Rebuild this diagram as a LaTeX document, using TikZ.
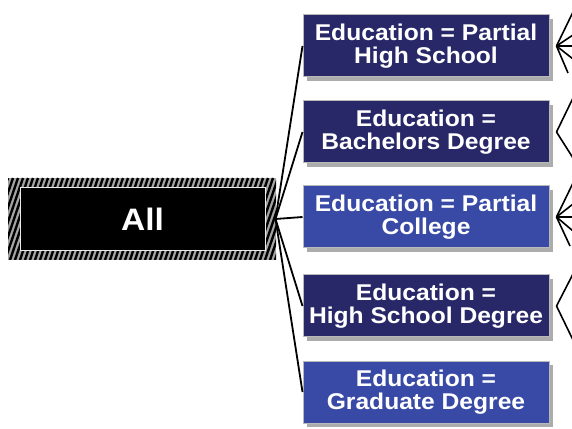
\documentclass[tikz,border=0pt]{standalone}
\usepackage{fontspec}
\newfontfamily\boxfont[FakeStretch=1.08]{Liberation Sans}
\usetikzlibrary{shadows}
\definecolor{navy}{RGB}{40,40,105}
\definecolor{brightblue}{RGB}{56,74,165}
\definecolor{hatchgray}{RGB}{165,165,165}
\begin{document}
\begin{tikzpicture}[x=1pt,y=1pt,
  edubox/.style={rectangle, minimum width=246pt, minimum height=62pt, inner sep=0pt,
    draw=gray!55, line width=1pt, text=white, align=center,
    font=\boxfont\bfseries\fontsize{22.8}{23}\selectfont,
    drop shadow={shadow xshift=4pt, shadow yshift=-4pt, fill=gray!65, opacity=1}},
  darkbox/.style={edubox, fill=navy},
  lightbox/.style={edubox, fill=brightblue},
  link/.style={draw=black, line width=1.8pt},
  fan/.style={draw=black, line width=1.6pt}]
\useasboundingbox (0,0) rectangle (572,428);
% All box with hatched border
\begin{scope}
  \fill[hatchgray] (8,168) rectangle (276,250);
  \clip (8,168) rectangle (276,250);
  \foreach \i in {-40,-35,...,300} {
    \draw[black, line width=2.4pt] (\i,168) -- (\i+28,250);
  }
\end{scope}
\node[rectangle, fill=black, draw=white!85!gray, line width=1pt, minimum width=245pt,
  minimum height=63pt, inner sep=0pt, text=white,
  font=\boxfont\bfseries\fontsize{31}{31}\selectfont] (all) at (142.5,209) {All};
\coordinate (allout) at (275.5,209);
% education boxes
\node[darkbox]  (b1) at (426,382) {Education = Partial\\High School};
\node[darkbox]  (b2) at (426,296) {Education =\\Bachelors Degree};
\node[lightbox] (b3) at (426,211) {Education = Partial\\College};
\node[darkbox]  (b4) at (426,122) {Education =\\High School Degree};
\node[lightbox] (b5) at (426,36)  {Education =\\Graduate Degree};
% connectors from All
\draw[link] (allout) -- (b1.west);
\draw[link] (allout) -- (b2.west);
\draw[link] (allout) -- (b3.west);
\draw[link] (allout) -- (b4.west);
\draw[link] (allout) -- (b5.west);
% fans to the right
\coordinate (r1) at ([xshift=7pt]b1.east);
\coordinate (r2) at ([xshift=7pt]b2.east);
\coordinate (r3) at ([xshift=7pt]b3.east);
\coordinate (r4) at ([xshift=7pt]b4.east);
\coordinate (e1a) at (573,416);
\coordinate (e1b) at (573,393);
\coordinate (e1c) at (573,382);
\coordinate (e1d) at (573,369);
\coordinate (e1e) at (568,355);
\coordinate (e2a) at (573,330);
\coordinate (e2b) at (573,270);
\coordinate (e3a) at (573,245);
\coordinate (e3b) at (573,224);
\coordinate (e3c) at (573,211);
\coordinate (e3d) at (573,197);
\coordinate (e3e) at (570,182);
\coordinate (e4a) at (573,154);
\coordinate (e4b) at (573,88);
\foreach \e in {e1a,e1b,e1c,e1d,e1e} \draw[fan] (r1) -- (\e);
\foreach \e in {e2a,e2b} \draw[fan] (r2) -- (\e);
\foreach \e in {e3a,e3b,e3c,e3d,e3e} \draw[fan] (r3) -- (\e);
\foreach \e in {e4a,e4b} \draw[fan] (r4) -- (\e);
\end{tikzpicture}
\end{document}
